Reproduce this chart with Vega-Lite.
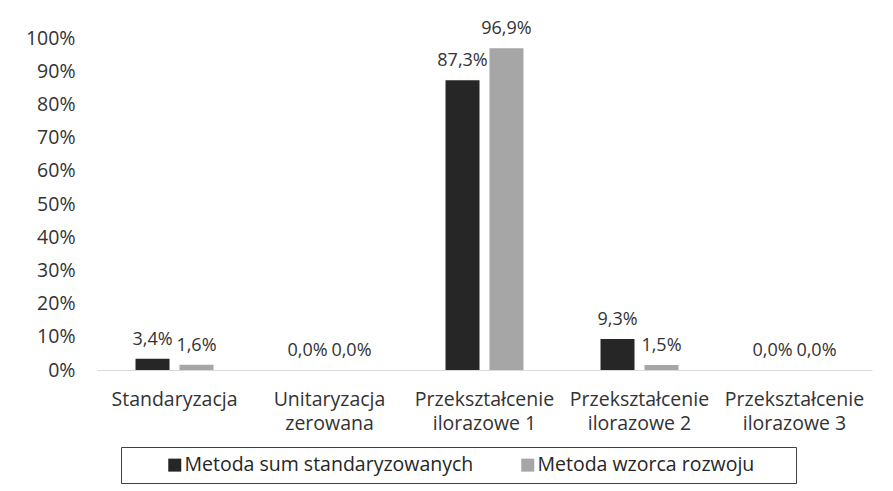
{
  "$schema": "https://vega.github.io/schema/vega-lite/v6.json",
  "width": 775,
  "height": 332,
  "autosize": "none",
  "padding": {"left": 97, "top": 38, "right": 21, "bottom": 121},
  "background": "white",
  "config": {
    "locale": {"number": {"decimal": ",", "thousands": " ", "grouping": [3], "currency": ["", " zł"]}},
    "view": {"stroke": null},
    "font": "Open Sans",
    "text": {"font": "Open Sans"}
  },
  "data": {
    "values": [
      {"kategoria": "Standaryzacja", "metoda": "Metoda sum standaryzowanych", "wartosc": 0.034},
      {"kategoria": "Standaryzacja", "metoda": "Metoda wzorca rozwoju", "wartosc": 0.016},
      {"kategoria": "Unitaryzacja zerowana", "metoda": "Metoda sum standaryzowanych", "wartosc": 0.0},
      {"kategoria": "Unitaryzacja zerowana", "metoda": "Metoda wzorca rozwoju", "wartosc": 0.0},
      {"kategoria": "Przekształcenie ilorazowe 1", "metoda": "Metoda sum standaryzowanych", "wartosc": 0.873},
      {"kategoria": "Przekształcenie ilorazowe 1", "metoda": "Metoda wzorca rozwoju", "wartosc": 0.969},
      {"kategoria": "Przekształcenie ilorazowe 2", "metoda": "Metoda sum standaryzowanych", "wartosc": 0.093},
      {"kategoria": "Przekształcenie ilorazowe 2", "metoda": "Metoda wzorca rozwoju", "wartosc": 0.015},
      {"kategoria": "Przekształcenie ilorazowe 3", "metoda": "Metoda sum standaryzowanych", "wartosc": 0.0},
      {"kategoria": "Przekształcenie ilorazowe 3", "metoda": "Metoda wzorca rozwoju", "wartosc": 0.0}
    ]
  },
  "encoding": {
    "x": {
      "field": "kategoria",
      "type": "nominal",
      "sort": null,
      "scale": {"paddingInner": 0.497, "paddingOuter": 0.2485},
      "axis": {
        "title": null,
        "labelAngle": 0,
        "labelExpr": "indexof(datum.label, ' ') > 0 ? [slice(datum.label, 0, indexof(datum.label, ' ')), slice(datum.label, indexof(datum.label, ' ') + 1)] : datum.label",
        "labelFontSize": 19.5,
        "labelColor": "#333333",
        "labelPadding": 20,
        "labelLineHeight": 24,
        "labelLimit": 0,
        "labelOverlap": false,
        "ticks": false,
        "domainColor": "#d9d9d9",
        "domainWidth": 1
      }
    },
    "xOffset": {
      "field": "metoda",
      "type": "nominal",
      "scale": {"paddingInner": 0.227, "paddingOuter": 0}
    },
    "y": {
      "field": "wartosc",
      "type": "quantitative",
      "scale": {"domain": [0, 1]},
      "axis": {
        "title": null,
        "format": ".0%",
        "values": [0, 0.1, 0.2, 0.3, 0.4, 0.5, 0.6, 0.7, 0.8, 0.9, 1],
        "labelOverlap": false,
        "grid": false,
        "domain": false,
        "ticks": false,
        "labelFontSize": 19.5,
        "labelColor": "#333333",
        "labelPadding": 22
      }
    }
  },
  "layer": [
    {
      "mark": {"type": "bar"},
      "encoding": {
        "color": {
          "field": "metoda",
          "type": "nominal",
          "scale": {"range": ["#262626", "#a6a6a6"]},
          "legend": {
            "title": "\u00a0",
            "titleOrient": "right",
            "titlePadding": 34,
            "titleFontSize": 10,
            "orient": "none",
            "legendX": 24,
            "legendY": 409,
            "direction": "horizontal",
            "symbolType": "square",
            "symbolSize": 169,
            "symbolStrokeWidth": 0,
            "symbolOffset": 36,
            "labelFontSize": 19.5,
            "labelColor": "#262626",
            "labelOffset": 0,
            "columnPadding": 8,
            "padding": 8,
            "strokeColor": "#404040",
            "labelLimit": 0
          }
        }
      }
    },
    {
      "mark": {"type": "text", "dy": -14, "baseline": "alphabetic", "fontSize": 18, "color": "#333333"},
      "encoding": {
        "text": {"field": "wartosc", "type": "quantitative", "format": ".1%"}
      }
    }
  ]
}
